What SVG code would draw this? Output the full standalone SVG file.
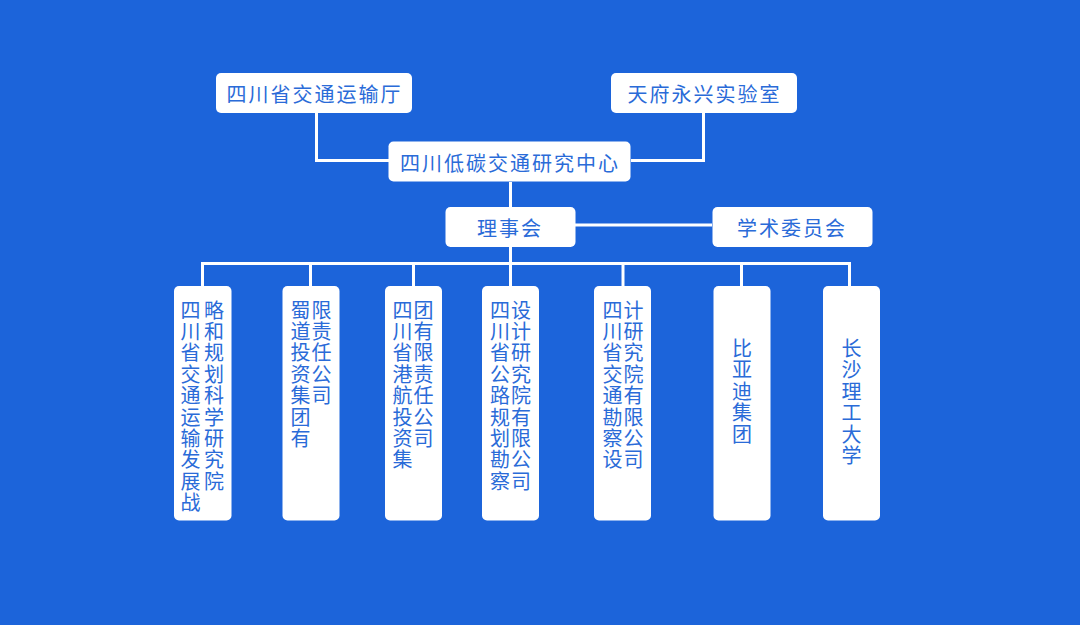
<svg xmlns="http://www.w3.org/2000/svg" width="1080" height="625" viewBox="0 0 1080 625">
<style>
.bg{fill:#1c64da}
.box{fill:#ffffff}
.t{font-family:"Noto Sans CJK SC","Noto Sans",sans-serif;font-size:20px;fill:#2a6bd8;letter-spacing:2px;dominant-baseline:central}
.v{font-family:"Noto Sans CJK SC","Noto Sans",sans-serif;font-size:20px;fill:#2a6bd8;letter-spacing:1.4px;writing-mode:vertical-rl;text-orientation:upright}
.ln{stroke:#ffffff;stroke-width:3;fill:none}
</style>
<rect class="bg" x="0" y="0" width="1080" height="625"/>
<g id="connectors">
<polyline class="ln" points="316.5,113 316.5,160.5 389,160.5"/>
<polyline class="ln" points="703.5,113 703.5,160.5 631,160.5"/>
<line class="ln" x1="510.5" y1="182" x2="510.5" y2="207"/>
<line class="ln" x1="575" y1="225" x2="712" y2="225"/>
<line class="ln" x1="510.5" y1="246" x2="510.5" y2="286"/>
<polyline class="ln" points="202.5,286 202.5,263.5 849.5,263.5 849.5,286"/>
<line class="ln" x1="310.5" y1="263.5" x2="310.5" y2="286"/>
<line class="ln" x1="413.5" y1="263.5" x2="413.5" y2="286"/>
<line class="ln" x1="623" y1="263.5" x2="623" y2="286"/>
<line class="ln" x1="741.5" y1="263.5" x2="741.5" y2="286"/>
</g>
<g id="n-jtyst">
<rect class="box" x="216" y="73" width="196" height="40" rx="5"/>
<text class="t" x="226.5" y="93.5">四川省交通运输厅</text>
</g>
<g id="n-tfyx">
<rect class="box" x="611" y="73" width="186" height="40" rx="5"/>
<text class="t" x="627.5" y="93.5">天府永兴实验室</text>
</g>
<g id="n-center">
<rect class="box" x="388.5" y="141.5" width="242" height="40" rx="5"/>
<text class="t" x="400" y="162">四川低碳交通研究中心</text>
</g>
<g id="n-lsh">
<rect class="box" x="445.5" y="207" width="130" height="40" rx="5"/>
<text class="t" x="477" y="227.5">理事会</text>
</g>
<g id="n-xswyh">
<rect class="box" x="712.5" y="207" width="160" height="40" rx="5"/>
<text class="t" x="737" y="227.5">学术委员会</text>
</g>
<g id="n-1">
<rect class="box" x="174" y="286" width="57.5" height="234.5" rx="5"/>
<text class="v" x="190.5" y="300">四川省交通运输发展战</text>
<text class="v" x="214" y="300">略和规划科学研究院</text>
</g>
<g id="n-2">
<rect class="box" x="282.5" y="286" width="57" height="234.5" rx="5"/>
<text class="v" x="300.5" y="300">蜀道投资集团有</text>
<text class="v" x="321.5" y="300">限责任公司</text>
</g>
<g id="n-3">
<rect class="box" x="385" y="286" width="57" height="234.5" rx="5"/>
<text class="v" x="402.5" y="300">四川省港航投资集</text>
<text class="v" x="423.5" y="300">团有限责任公司</text>
</g>
<g id="n-4">
<rect class="box" x="482" y="286" width="57" height="234.5" rx="5"/>
<text class="v" x="500" y="300">四川省公路规划勘察</text>
<text class="v" x="521" y="300">设计研究院有限公司</text>
</g>
<g id="n-5">
<rect class="box" x="594" y="286" width="57" height="234.5" rx="5"/>
<text class="v" x="612.5" y="300">四川省交通勘察设</text>
<text class="v" x="633.5" y="300">计研究院有限公司</text>
</g>
<g id="n-6">
<rect class="box" x="713.5" y="286" width="57" height="234.5" rx="5"/>
<text class="v" x="742" y="338.5">比亚迪集团</text>
</g>
<g id="n-7">
<rect class="box" x="823" y="286" width="57" height="234.5" rx="5"/>
<text class="v" x="851.5" y="338.5">长沙理工大学</text>
</g>
</svg>
